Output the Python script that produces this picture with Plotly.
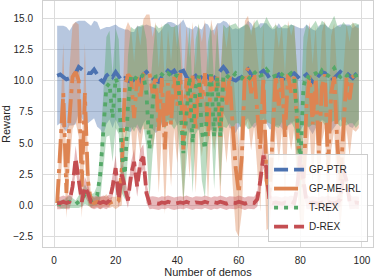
import plotly.graph_objects as go

x_demos = list(range(1, 100))

ptr_mean = [10.4,10.5,10.3,10.1,10.2,10.4,10.6,11.1,10.9,10.7,
 10.6,10.6,10.9,10.5,10.1,9.9,10.4,10.6,10.3,10.7,
 10.3,10.0,10.2,10.0,9.9,10.1,10.3,10.0,10.5,10.7,
 10.4,10.2,10.0,9.9,10.3,10.5,10.8,10.6,10.8,10.4,
 10.7,10.8,10.3,10.0,10.2,10.4,10.1,10.3,10.6,10.3,
 10.0,10.2,10.5,10.8,11.1,10.8,10.3,10.1,10.0,10.2,
 10.3,10.6,10.9,10.5,10.2,10.4,10.6,10.8,10.6,10.2,
 10.1,10.3,10.5,10.2,10.0,10.3,10.5,10.6,10.3,10.1,
 10.3,10.5,10.2,9.9,10.1,10.4,10.7,10.6,10.3,10.0,
 10.2,10.5,10.7,10.5,10.6,10.4,10.2,10.5,10.7]
ptr_sd = [4.0,3.9,4.1,4.2,3.8,4.0,4.1,3.7,3.9,4.1,
 4.0,3.8,3.9,4.2,4.0,4.3,3.9,3.7,4.1,3.8,
 4.0,4.2,3.9,4.1,4.0,3.8,4.1,4.3,3.9,3.8,
 4.0,4.1,4.2,3.9,3.8,4.0,3.9,4.1,3.8,4.0,
 3.9,4.1,4.0,4.2,3.9,4.0,4.1,3.8,4.0,4.2,
 4.0,3.9,4.1,3.8,3.7,3.9,4.1,4.0,4.2,3.9,
 4.0,3.8,3.9,4.1,4.0,3.9,4.0,3.8,4.0,4.1,
 4.0,3.9,4.1,4.0,4.2,3.9,4.0,3.8,4.0,4.1,
 3.9,4.0,4.1,4.2,3.9,4.0,3.8,3.9,4.0,4.1,
 4.0,3.9,3.8,4.0,3.9,4.1,4.0,3.9,3.8]

meirl_mean = [0.2,4.5,9.0,1.0,7.0,10.3,10.7,10.0,1.5,9.0,
 2.0,0.3,0.2,0.3,0.2,0.3,0.4,0.2,0.3,0.2,
 0.4,3.0,9.5,10.5,10.2,7.0,10.3,8.5,10.5,10.7,
 10.6,9.0,10.4,6.0,10.2,4.5,9.8,6.5,10.3,8.0,
 10.6,4.5,10.2,7.0,10.4,6.0,10.3,8.5,10.6,5.5,
 10.5,9.0,10.3,5.5,10.2,8.0,10.4,6.5,3.0,1.0,
 4.0,10.5,11.0,9.0,10.6,7.5,4.5,10.3,2.0,0.8,
 6.0,10.4,8.0,10.2,5.5,10.5,9.0,10.3,6.0,2.5,
 1.5,8.0,10.4,6.5,10.2,4.2,9.5,10.5,3.0,9.0,
 10.3,5.0,2.0,6.0,10.3,8.5,10.4,10.1,10.2]
meirl_sd = [0.5,3.0,4.0,2.0,4.0,4.2,4.0,4.5,2.5,4.0,
 2.0,0.5,0.4,0.4,0.5,0.4,0.5,0.4,0.4,0.5,
 0.5,3.0,4.5,4.2,4.0,4.5,4.2,4.3,4.4,4.6,
 4.7,4.5,4.3,5.0,4.4,5.2,4.3,5.0,4.2,4.6,
 4.3,5.0,4.2,4.8,4.3,5.0,4.2,4.6,4.3,5.2,
 4.4,4.6,4.3,5.0,4.2,4.6,4.3,4.8,5.0,3.5,
 4.5,4.3,4.2,4.6,4.3,4.8,5.0,4.3,4.0,2.5,
 4.6,4.3,4.6,4.2,5.0,4.3,4.6,4.2,4.8,4.2,
 3.5,4.6,4.3,4.8,4.2,5.0,4.4,4.3,4.5,4.6,
 4.3,4.8,3.8,4.8,4.2,4.6,4.3,4.2,4.0]

trex_mean = [0.2,0.1,0.1,0.2,0.3,0.2,0.1,0.3,0.5,0.9,
 0.6,0.4,0.5,0.8,2.5,6.0,9.5,9.8,7.0,10.2,
 9.5,4.0,2.5,8.0,10.3,10.0,10.4,10.2,10.5,9.0,
 4.5,8.0,10.4,10.2,10.5,10.3,10.6,10.4,10.2,10.5,
 8.0,4.2,7.5,10.3,5.0,9.5,10.4,6.0,4.5,9.0,
 10.5,5.5,10.3,5.5,10.4,10.2,10.5,10.3,10.6,10.4,
 10.2,10.5,10.3,10.1,10.6,10.8,10.4,10.5,10.9,10.6,
 10.3,10.4,10.2,10.5,10.3,10.4,10.6,10.3,7.0,3.5,
 9.5,10.4,10.2,10.5,10.6,10.3,10.8,10.5,10.4,10.7,
 11.0,10.5,10.3,10.6,10.4,10.5,10.6,10.4,10.5]
trex_sd = [0.3,0.3,0.4,0.4,0.5,0.4,0.3,0.5,0.6,0.8,
 0.6,0.5,0.5,0.8,2.0,3.0,4.0,4.2,3.5,4.0,
 3.8,3.0,2.0,4.0,4.0,4.1,3.9,4.2,4.0,4.3,
 4.0,3.9,4.1,4.0,3.8,4.2,4.0,3.9,4.1,4.0,
 4.2,3.9,4.0,4.1,4.0,3.8,4.2,4.0,3.9,4.1,
 4.0,4.2,3.9,4.0,4.1,4.0,3.9,4.2,4.0,3.8,
 4.1,4.0,4.2,3.9,4.0,4.1,3.8,4.0,4.2,4.0,
 3.9,4.1,4.0,3.8,4.2,4.0,3.9,4.1,4.0,3.5,
 4.0,4.1,3.9,4.0,4.2,3.9,4.0,4.1,3.8,4.0,
 4.2,3.9,4.0,4.1,4.0,3.9,4.0,4.2,4.0]

drex_mean = [0.2,0.2,0.3,0.2,0.3,1.5,3.8,2.0,0.3,1.5,
 1.0,0.3,0.2,0.3,0.2,0.3,0.2,0.4,1.5,3.0,
 0.5,2.5,1.5,0.4,2.5,3.5,1.5,3.5,3.9,1.0,
 0.2,0.25,0.2,0.15,0.25,0.2,0.3,0.2,0.15,0.2,
 0.25,0.2,0.3,0.2,0.15,0.25,0.2,0.2,0.3,0.2,
 0.15,0.25,0.2,0.3,0.2,0.15,0.25,0.2,0.2,0.3,
 0.2,0.15,0.25,0.2,0.2,0.5,2.0,4.0,3.0,0.3,
 0.2,0.25,0.2,0.15,0.25,0.2,0.3,0.2,1.5,4.0,
 2.0,0.3,0.2,0.25,0.2,0.15,0.25,0.2,0.3,0.2,
 0.2,0.25,0.5,2.8,2.0,0.3,0.2,0.25,0.2]
drex_sd = [0.5,0.5,0.5,0.5,0.6,0.8,1.0,0.9,0.6,0.8,
 0.7,0.5,0.5,0.5,0.5,0.5,0.5,0.5,0.8,1.0,
 0.7,1.0,0.8,0.6,1.0,1.0,0.8,1.0,1.0,0.8,
 0.5,0.5,0.5,0.5,0.5,0.5,0.5,0.5,0.5,0.5,
 0.5,0.5,0.5,0.5,0.5,0.5,0.5,0.5,0.5,0.5,
 0.5,0.5,0.5,0.5,0.5,0.5,0.5,0.5,0.5,0.5,
 0.5,0.5,0.5,0.5,0.5,0.6,0.9,1.0,0.9,0.6,
 0.5,0.5,0.5,0.5,0.5,0.5,0.5,0.5,0.8,1.0,
 0.9,0.6,0.5,0.5,0.5,0.5,0.5,0.5,0.5,0.5,
 0.5,0.5,0.6,0.9,0.8,0.6,0.5,0.5,0.5]

series = [
    ("GP-PTR", ptr_mean, ptr_sd, (76, 114, 176), "14px,6px"),
    ("GP-ME-IRL", meirl_mean, meirl_sd, (221, 132, 82), "24px,6px,4px,6px"),
    ("T-REX", trex_mean, trex_sd, (85, 168, 104), "4px,6px"),
    ("D-REX", drex_mean, drex_sd, (196, 78, 82), "14px,6px"),
]

fig = go.Figure()
for name, m, s, c, dash in series:
    upper = [a + b for a, b in zip(m, s)]
    lower = [a - b for a, b in zip(m, s)]
    fig.add_trace(go.Scatter(
        x=x_demos + x_demos[::-1], y=upper + lower[::-1],
        fill="toself", fillcolor="rgba(%d,%d,%d,0.4)" % c,
        line=dict(width=0), mode="lines", showlegend=False, hoverinfo="skip"))
for name, m, s, c, dash in series:
    fig.add_trace(go.Scatter(
        x=x_demos, y=m, mode="lines", name=name,
        line=dict(color="rgb(%d,%d,%d)" % c, width=3.8, dash=dash)))

font_family = "Arial, Liberation Sans, sans-serif"
axis_common = dict(
    showgrid=True, gridcolor="#DCDCDC", gridwidth=1,
    showline=True, linecolor="#D0D0D0", linewidth=1, mirror=True,
    zeroline=False, ticks="", automargin=False,
    tickfont=dict(size=10, color="#262626", family=font_family),
)
fig.update_layout(
    template="none",
    width=374, height=278,
    margin=dict(l=43, r=1, t=1, b=31, pad=0),
    paper_bgcolor="white", plot_bgcolor="white",
    font=dict(family=font_family, color="#262626"),
    xaxis=dict(range=[-3.6, 103.6], tickvals=[0, 20, 40, 60, 80, 100],
               title=dict(text="Number of demos", font=dict(size=11), standoff=4),
               ticklabelstandoff=4, **axis_common),
    yaxis=dict(range=[-3.32, 16.38], tickvals=[-2.5, 0, 2.5, 5, 7.5, 10, 12.5, 15],
               tickformat=".1f",
               title=dict(text="Reward", font=dict(size=11), standoff=4),
               ticklabelstandoff=7, **axis_common),
    legend=dict(x=0.985, y=0.02, xanchor="right", yanchor="bottom",
                bgcolor="rgba(255,255,255,0.85)", bordercolor="#CCCCCC", borderwidth=1,
                font=dict(size=10, color="#262626")),
    showlegend=True,
)
fig.write_html("out.html", config={"displayModeBar": False},
               post_script="document.body.style.margin='0';document.body.style.overflow='hidden';")
